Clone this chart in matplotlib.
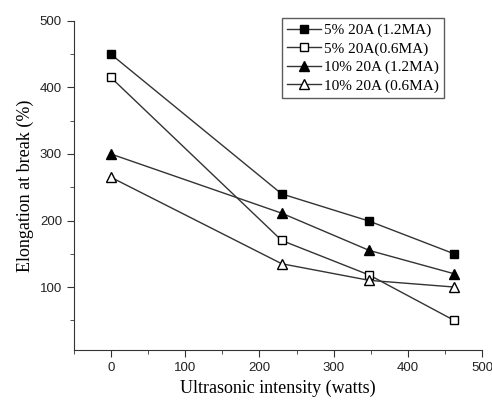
import matplotlib.pyplot as plt
from matplotlib.ticker import MultipleLocator

power = [0, 230, 348, 462]
s5_12 = [450, 240, 199, 150]
s5_06 = [415, 170, 118, 50]
s10_12 = [300, 211, 155, 120]
s10_06 = [265, 135, 110, 100]

labels = ["5% 20A (1.2MA)", "5% 20A(0.6MA)", "10% 20A (1.2MA)", "10% 20A (0.6MA)"]

fig = plt.figure(figsize=(4.92, 4.03), dpi=100)
ax = fig.add_axes([0.15, 0.131, 0.83, 0.817])

ax.plot(power, s5_12, '-s', color='#333333', mfc='black', mec='black', ms=5.5, lw=1, label=labels[0])
ax.plot(power, s5_06, '-s', color='#333333', mfc='white', mec='black', ms=5.5, lw=1, label=labels[1])
ax.plot(power, s10_12, '-^', color='#333333', mfc='black', mec='black', ms=6.5, lw=1, label=labels[2])
ax.plot(power, s10_06, '-^', color='#333333', mfc='white', mec='black', ms=6.5, lw=1, label=labels[3])

ax.set_xlim(-50, 500)
ax.set_ylim(5, 500)
ax.xaxis.set_major_locator(MultipleLocator(100))
ax.xaxis.set_minor_locator(MultipleLocator(50))
ax.yaxis.set_major_locator(MultipleLocator(100))
ax.yaxis.set_minor_locator(MultipleLocator(50))
ax.tick_params(which='both', direction='out', color='#333333')
ax.tick_params(which='major', length=5, labelsize=9.5, labelcolor='#222222')
ax.tick_params(which='minor', length=3)
for lab in ax.get_xticklabels() + ax.get_yticklabels():
    lab.set_fontfamily('Liberation Sans')

ax.spines['top'].set_visible(False)
ax.spines['right'].set_visible(False)
ax.spines['left'].set_color('#333333')
ax.spines['bottom'].set_color('#333333')

ax.set_xlabel("Ultrasonic intensity (watts)", fontfamily='Liberation Serif', fontsize=13)
ax.set_ylabel("Elongation at break (%)", fontfamily='Liberation Serif', fontsize=13)

leg = ax.legend(loc='upper right', bbox_to_anchor=(0.902, 0.955), bbox_transform=fig.transFigure,
                prop={'family': 'Liberation Serif', 'size': 11}, frameon=True, fancybox=False,
                handlelength=2.2, handletextpad=0.2, borderpad=0.35, labelspacing=0.3,
                borderaxespad=0)
leg.get_frame().set_edgecolor('#333333')
leg.get_frame().set_linewidth(1)

fig.savefig("out.png", dpi=100)
